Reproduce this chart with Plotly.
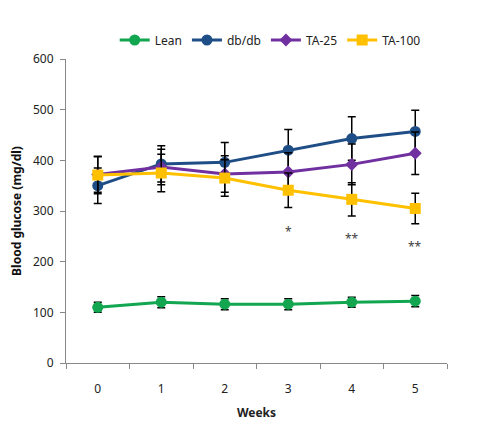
import plotly.graph_objects as go

weeks = ["0", "1", "2", "3", "4", "5"]
lean = [110, 120, 116, 116, 120, 122]
lean_err = [10, 11, 11, 11, 10, 11]
dbdb = [350, 393, 396, 420, 443, 457]
dbdb_err = [35, 36, 39, 41, 43, 42]
ta25 = [372, 387, 373, 377, 392, 414]
ta25_err = [35, 35, 36, 38, 40, 42]
ta100 = [371, 375, 365, 341, 323, 305]
ta100_err = [37, 37, 36, 34, 33, 30]
sig_weeks = ["3", "4", "5"]
sig_labels = ["*", "**", "**"]
sig_y = [259, 246, 230]

series = [
    ("Lean", lean, lean_err, "#12A650", "circle", 11),
    ("db/db", dbdb, dbdb_err, "#1F4E86", "circle", 11),
    ("TA-25", ta25, ta25_err, "#7030A0", "diamond", 10),
    ("TA-100", ta100, ta100_err, "#FFC000", "square", 11),
]

fig = go.Figure()
for name, vals, err, color, sym, size in series:
    fig.add_trace(go.Scatter(
        x=weeks, y=vals, name=name, mode="lines+markers",
        line=dict(color=color, width=3),
        marker=dict(symbol=sym, size=size, color=color),
        error_y=dict(type="data", array=err, visible=True, color="black",
                     thickness=1.5, width=4),
    ))

for w, lab, yv in zip(sig_weeks, sig_labels, sig_y):
    fig.add_annotation(x=w, y=yv, text=lab, showarrow=False,
                       font=dict(size=12, color="#404040"))

fig.update_layout(
    width=479, height=428,
    margin=dict(l=58, r=40, t=51, b=73, autoexpand=False),
    paper_bgcolor="white", plot_bgcolor="white",
    font=dict(family="Noto Sans", size=12, color="#222222"),
    showlegend=True,
    legend=dict(orientation="h", x=0.536, y=1.0625, xref="paper", yref="paper",
                xanchor="center", yanchor="middle", font=dict(size=12),
                itemwidth=30, tracegroupgap=0),
    xaxis=dict(type="category", range=[-0.5, 5.5], tickson="boundaries",
               automargin=False,
               showline=True, linecolor="#888888", linewidth=1,
               ticks="outside", ticklen=5, tickcolor="#888888",
               ticklabelstandoff=15, showgrid=False, zeroline=False,
               title=dict(text="<b>Weeks</b>", standoff=12,
                          font=dict(size=12, color="#222222"))),
    yaxis=dict(range=[0, 600], dtick=100, showline=True, linecolor="#888888",
               automargin=False, ticklabelstandoff=4,
               linewidth=1, ticks="outside", ticklen=5, tickcolor="#888888",
               showgrid=False, zeroline=False,
               title=dict(text="<b>Blood glucose (mg/dl)</b>", standoff=11,
                          font=dict(size=12, color="#111111"))),
)

fig.write_html("out.html")
